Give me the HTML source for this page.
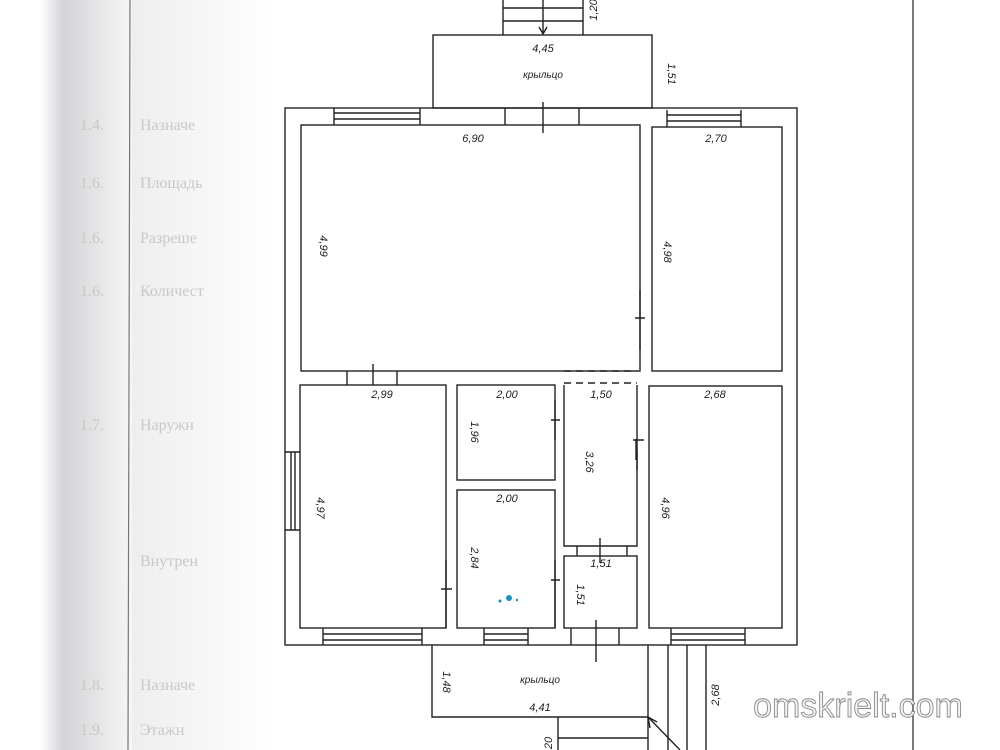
<!DOCTYPE html>
<html><head><meta charset="utf-8"><style>
html,body{margin:0;padding:0;background:#fff;}
#w{position:relative;width:1000px;height:750px;overflow:hidden;background:#fff;font-family:"Liberation Sans",sans-serif;}
</style></head><body><div id="w">
<svg width="1000" height="750" viewBox="0 0 1000 750" xmlns="http://www.w3.org/2000/svg">
<defs>
<linearGradient id="g" x1="0" x2="1" y1="0" y2="0">
<stop offset="0" stop-color="#fff"/><stop offset="0.25" stop-color="#d4d4d8"/><stop offset="0.6" stop-color="#e4e4e6"/><stop offset="1" stop-color="#f6f6f6"/>
</linearGradient>
<linearGradient id="g2" x1="0" x2="1"><stop offset="0" stop-color="#eeeeee"/><stop offset="1" stop-color="#fff"/></linearGradient>
</defs>
<rect x="40" y="0" width="92" height="750" fill="url(#g)"/>
<rect x="132" y="0" width="140" height="750" fill="url(#g2)"/>
<line x1="130" y1="0" x2="128" y2="750" stroke="#777" stroke-width="1.2"/>
<g fill="#c8c8c8" font-family="Liberation Serif,serif" font-size="16">
<text x="80" y="130">1.4.</text><text x="140" y="130">Назначе</text>
<text x="80" y="188">1.6.</text><text x="140" y="188">Площадь</text>
<text x="80" y="243">1.6.</text><text x="140" y="243">Разреше</text>
<text x="80" y="296">1.6.</text><text x="140" y="296">Количест</text>
<text x="80" y="430">1.7.</text><text x="140" y="430">Наружн</text>
<text x="140" y="566">Внутрен</text>
<text x="80" y="690">1.8.</text><text x="140" y="690">Назначе</text>
<text x="80" y="735">1.9.</text><text x="140" y="735">Этажн</text>
</g>
<line x1="913" y1="0" x2="913" y2="750" stroke="#333" stroke-width="1.3"/>
<g fill="none" stroke="#222" stroke-width="1.4">
<!-- top stairs -->
<path d="M503 0V35 M583 0V35 M503 8H583 M503 21H583"/>
<line x1="543" y1="0" x2="543" y2="33"/>
<path d="M539 27L543 34L547 27"/>
<!-- top porch -->
<rect x="433" y="35" width="219" height="73"/>
<!-- outer walls -->
<rect x="285" y="108" width="512" height="537"/>
<!-- rooms -->
<rect x="301" y="125" width="339" height="246"/>
<rect x="652" y="127" width="130" height="244"/>
<rect x="300" y="385" width="146" height="243"/>
<rect x="457" y="385" width="98" height="95"/>
<rect x="457" y="490" width="98" height="138"/>
<rect x="564" y="556" width="73" height="72"/>
<rect x="649" y="386" width="133" height="242"/>
<path d="M564 385V546H637V385"/>
<!-- windows -->
<path d="M334 108V125 M420 108V125 M334 113H420 M334 119H420"/>
<path d="M505 108V125 M579 108V125 M543 102V133"/>
<path d="M667 110V127 M741 110V127 M667 115H741 M667 121H741"/>
<path d="M323 628V645 M422 628V645 M323 634H422 M323 640H422"/>
<path d="M484 628V645 M528 628V645 M484 634H528 M484 640H528"/>
<path d="M571 628V645 M619 628V645 M596 620V662"/>
<path d="M671 628V645 M745 628V645 M671 634H745 M671 640H745"/>
<path d="M285 452H300 M285 530H300 M291 452V530 M295 452V530"/>
<path d="M347 371V385 M397 371V385 M373 364V385"/>
<path d="M577 546V556 M627 546V556 M600 538V563"/>
<path d="M555 400V440 M551 420H560 M564 420"/>
<path d="M640 290V350 M635 318H645"/>
<path d="M637 450V470 M636 439V460 M633 440H644"/>
<path d="M446 560V628 M441 589H452"/>
<path d="M555 560V628 M551 580H560"/>
<!-- dashed -->
<path d="M564 371H637 M564 383H637" stroke-dasharray="7,5"/>
<!-- bottom porch -->
<path d="M432 645V717H648"/>
<path d="M648 645V750 M668 645V750 M687 645V750 M706 645V750"/>
<path d="M558 717V750 M558 738H648"/>
<line x1="648" y1="717" x2="680" y2="750"/>
<path d="M648 717L650 728 M648 717L657 722"/>
</g>
<g font-family="Liberation Sans,sans-serif" font-style="italic" font-size="11" fill="#222" text-anchor="middle">
<text x="543" y="52">4,45</text>
<text x="543" y="78" font-size="10">крыльцо</text>
<text x="473" y="142">6,90</text>
<text x="716" y="142">2,70</text>
<text x="382" y="398">2,99</text>
<text x="507" y="398">2,00</text>
<text x="601" y="398">1,50</text>
<text x="715" y="398">2,68</text>
<text x="507" y="502">2,00</text>
<text x="601" y="567">1,51</text>
<text x="540" y="683" font-size="10">крыльцо</text>
<text x="540" y="711">4,41</text>
<text transform="translate(320,246) rotate(90)">4,99</text>
<text transform="translate(664,252) rotate(90)">4,98</text>
<text transform="translate(317,508) rotate(90)">4,97</text>
<text transform="translate(471,432) rotate(90)">1,96</text>
<text transform="translate(586,462) rotate(90)">3,26</text>
<text transform="translate(662,508) rotate(90)">4,96</text>
<text transform="translate(471,558) rotate(90)">2,84</text>
<text transform="translate(577,595) rotate(90)">1,51</text>
<text transform="translate(443,682) rotate(90)">1,48</text>
<text transform="translate(719,695) rotate(-90)">2,68</text>
<text transform="translate(668,74) rotate(90)">1,51</text>
<text transform="translate(597,10) rotate(-90)">1,20</text>
<text transform="translate(552,743) rotate(-90)">20</text>
</g>
<circle cx="509" cy="598" r="3" fill="#1a8fc0"/>
<circle cx="500" cy="601" r="1.5" fill="#1a8fc0"/>
<circle cx="517" cy="600" r="1.2" fill="#1a8fc0"/>
<text x="858" y="717" text-anchor="middle" font-family="Liberation Sans,sans-serif" font-size="34" fill="#f4f4f4" stroke="#8a8a8a" stroke-width="0.9">omskrielt.com</text>
</svg>
</div></body></html>
